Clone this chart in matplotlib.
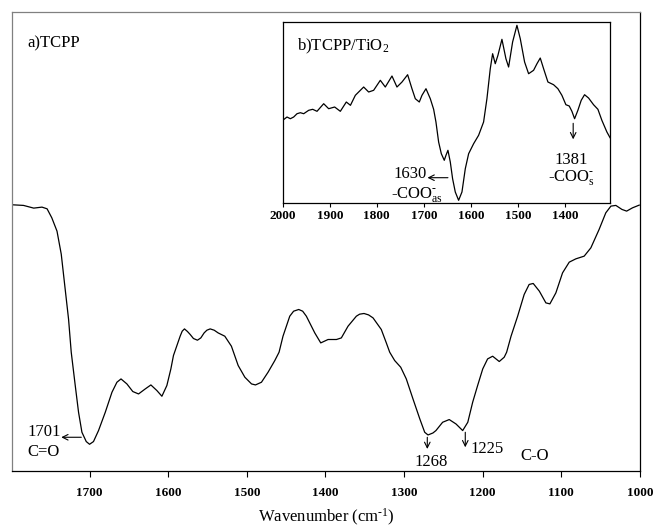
import matplotlib
matplotlib.use("Agg")
import matplotlib.pyplot as plt

plt.rcParams["font.family"] = ["Liberation Serif", "DejaVu Serif"]
plt.rcParams["mathtext.fontset"] = "custom"
plt.rcParams["mathtext.rm"] = "Liberation Serif"
plt.rcParams["mathtext.it"] = "Liberation Serif:italic"

# Main spectrum a) TCPP (wavenumber, arbitrary transmittance)
main_wn = [1797.6, 1784, 1771, 1760.5, 1754, 1748, 1741.4, 1736, 1731, 1726.7,
           1723.3, 1718.2, 1714, 1709.7, 1704.2, 1700, 1695, 1688.6, 1680, 1671.5,
           1665.2, 1660, 1652.5, 1645, 1637.7, 1629.2, 1622, 1614.4, 1608, 1601.7,
           1596.6, 1593.3, 1584.8, 1582.2, 1579.3, 1575.5, 1572, 1567.9, 1562.8, 1558.5,
           1554.3, 1550.8, 1546.6, 1541.5, 1536.5, 1528,
           1519.6, 1511, 1502.5, 1494, 1489, 1481.4, 1473, 1464.4, 1459, 1454,
           1445.4, 1440.5, 1434, 1429, 1424.3, 1413.6, 1406, 1396.7, 1386, 1379.8,
           1371.3, 1360.7, 1356.6, 1351, 1345.2, 1339.5, 1329, 1322.6, 1318.3, 1312,
           1304.3, 1297.2, 1288.7, 1280,
           1273.8, 1269.6, 1263.3, 1259.5, 1251, 1242.6, 1234, 1225.5, 1219, 1212.8,
           1206.5, 1200, 1193.8, 1187.4, 1179, 1172.7, 1169.6, 1164, 1155.6, 1147.3,
           1141, 1135.8, 1128, 1119.7, 1114.6, 1107, 1098.5, 1090, 1081.6, 1071,
           1062.5, 1052, 1043.5, 1037, 1030.7, 1023, 1017, 1009.5, 1001]
main_t = [266.3, 265.7, 263, 264, 262.3, 253.3, 240, 217, 182, 152,
          119, 85.7, 59, 39, 29.7, 27, 29.7, 40.7, 59, 79,
          89, 92.3, 87.3, 79.7, 77.3, 82.3, 86.3, 80.7, 75, 85.7,
          102.3, 115.7, 135, 140, 142.3, 139.7, 136.7, 132.7, 131, 133.3,
          138.3, 141, 142.3, 141, 138.3, 135,
          125, 105.7, 94, 87.3, 86.3, 89, 99, 110.7, 119, 135,
          155, 160, 161.7, 160, 155, 138.3, 128.3, 131.7, 131.7, 133.3,
          145, 155, 157, 157.7, 156.3, 153.3, 141.7, 128.3, 119, 110.7,
          104, 92.3, 72.3, 52.3,
          39, 36.3, 38.3, 40.7, 49, 51.7, 47.3, 40.7, 49, 69,
          85.7, 102.3, 112.3, 115, 109.7, 114, 119, 135, 155, 176.7,
          186.7, 187.7, 180, 168.3, 167.3, 178.3, 198.3, 209, 212.3, 215,
          223.3, 241.7, 258.3, 265, 265.7, 261.7, 260, 263.3, 266]

# Inset spectrum b) TCPP/TiO2
inset_wn = [2000, 1990.9, 1983.8, 1976.7, 1969.6, 1962.5, 1955.4, 1944.8, 1936.3, 1927.1,
            1912.9, 1902.3, 1889.6, 1877.5, 1864.8, 1856, 1845.6, 1827.9, 1817.3, 1806.7,
            1792.5, 1781.9, 1767.7, 1757.1, 1746.4, 1734.4, 1725.2, 1718.1, 1709.6, 1703.9,
            1695.4, 1686.2, 1679.1, 1674.2, 1668.5, 1662.8, 1656.5, 1652.9, 1648.7, 1643.7,
            1638.8, 1633.1, 1626, 1618.9, 1611.8, 1604.7, 1594.1, 1583.5, 1572.9, 1565.8,
            1558.7, 1553.7, 1548.1, 1542.4, 1533.9, 1525.4, 1519.7, 1511.2, 1502, 1494.9,
            1485.7, 1477.2, 1466.6, 1459.4, 1452.4, 1445.3, 1436.1, 1424.1, 1414.9, 1406.4,
            1397.9, 1390.8, 1385.1, 1379.4, 1372.4, 1365.3, 1358.2, 1349.7, 1339.1, 1329.8,
            1321.4, 1310.7, 1304]
inset_t = [82.4, 85.7, 84, 85.7, 89, 90, 89, 92.4, 93.4, 91.4,
           99, 94, 95.7, 91.4, 100.7, 97.4, 107.4, 115.7, 110.7, 112.4,
           122.4, 115.7, 126.7, 115.7, 120.7, 128, 114, 104, 100.7, 107.4,
           114, 104, 93.4, 80.7, 60.7, 49, 42.4, 47.4, 52.4, 40.7,
           24, 10.7, 2.4, 10.7, 34, 49, 59, 67.4, 80.7, 104,
           134, 149, 139, 147.4, 163.4, 144, 135.7, 160.7, 177.4, 164,
           140.7, 129, 132.4, 139, 144.7, 134, 120.7, 118, 114, 107.4,
           98, 96.7, 91.4, 84, 92.4, 102.4, 108, 104.7, 98, 93.4,
           82.4, 70.7, 65]

main_ticks = [1700, 1600, 1500, 1400, 1300, 1200, 1100, 1000]
inset_ticks = [2000, 1900, 1800, 1700, 1600, 1500, 1400]

HY = "\u2010"  # short hyphen used in super/subscripts

fig = plt.figure(figsize=(6.54, 5.28), dpi=100)

# ---- main panel
ax = fig.add_axes([0.0191, 0.1074, 0.9595, 0.8699])
ax.plot(main_wn, main_t, color="black", lw=0.9)
ax.set_xlim(1798, 1000)
ax.set_ylim(0, 459)
ax.set_yticks([])
ax.set_xticks(main_ticks)
ax.tick_params(axis="x", direction="out", length=4, width=0.8, pad=7)
for lab in ax.get_xticklabels():
    lab.set_fontsize(9.5)
    lab.set_fontweight("bold")
for side in ["left", "top"]:
    ax.spines[side].set_color("#808080")
for side in ["bottom", "right"]:
    ax.spines[side].set_color("black")
for s in ax.spines.values():
    s.set_linewidth(0.9)
ax.set_xlabel("Wavenumber (cm$^{\\mathrm{" + HY + "1}}$)", fontsize=12, labelpad=6)

ax.text(1779.5, 427.7, "a)TCPP", fontsize=12, ha="left", va="center")
arrow = dict(arrowstyle="->", lw=0.8, color="black", shrinkA=0, shrinkB=0)
ax.annotate("", xy=(1736, 34), xytext=(1710.5, 34), arrowprops=arrow)
ax.text(1779.5, 39.7, "1701", fontsize=12, ha="left", va="center")
ax.text(1779.5, 19, "C=O", fontsize=12, ha="left", va="center")
ax.annotate("", xy=(1270.5, 22.3), xytext=(1270.5, 34), arrowprops=arrow)
ax.text(1265.8, 9, "1268", fontsize=12, ha="center", va="center")
ax.annotate("", xy=(1222.2, 24), xytext=(1222.2, 39), arrowprops=arrow)
ax.text(1215, 22.3, "1225", fontsize=12, ha="left", va="center")
ax.text(1151.5, 15.7, "C-O", fontsize=12, ha="left", va="center")

# ---- inset panel
ins = fig.add_axes([0.4323, 0.6161, 0.5005, 0.3422], zorder=5)
ins.set_facecolor("white")
ins.plot(inset_wn, inset_t, color="black", lw=0.9)
ins.set_xlim(2000, 1304)
ins.set_ylim(0, 180.7)
ins.set_yticks([])
ins.set_xticks(inset_ticks)
ins.tick_params(axis="x", direction="out", length=3, width=0.8, pad=2)
for lab in ins.get_xticklabels():
    lab.set_fontsize(9.5)
    lab.set_fontweight("bold")
for s in ins.spines.values():
    s.set_linewidth(0.9)
    s.set_color("black")

ins.text(1970.2, 156, "b)TCPP/TiO$_{\\mathrm{2}}$", fontsize=12, ha="left", va="center")
ins.annotate("", xy=(1692.2, 25), xytext=(1648.7, 25), arrowprops=arrow)
ins.text(1694, 29, "1630", fontsize=12, ha="right", va="center")
ins.text(1715.2, 8.5, "-COO$^{\\mathrm{" + HY + "}}_{\\mathrm{as}}$", fontsize=12,
         ha="center", va="center")
ins.annotate("", xy=(1382.4, 63.4), xytext=(1382.4, 79.4), arrowprops=arrow)
ins.text(1387.2, 43, "1381", fontsize=12, ha="center", va="center")
ins.text(1385.8, 25.5, "-COO$^{\\mathrm{" + HY + "}}_{\\mathrm{s}}$", fontsize=12,
         ha="center", va="center")

fig.savefig("out.png", dpi=100)
